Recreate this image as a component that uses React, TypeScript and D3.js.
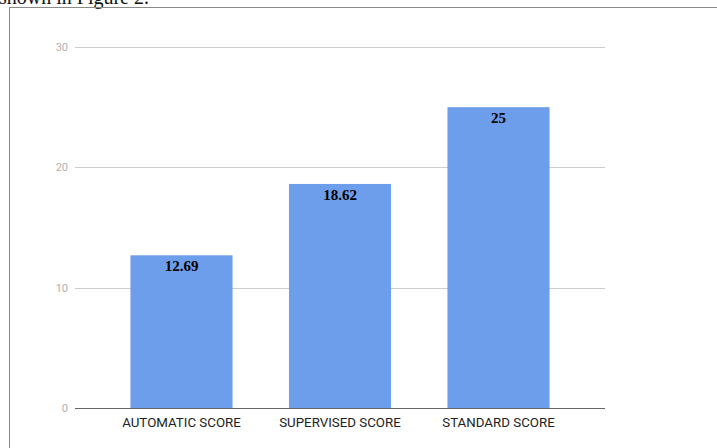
import React from 'react';
import * as d3 from 'd3';

const categories = ['AUTOMATIC SCORE', 'SUPERVISED SCORE', 'STANDARD SCORE'];
const scores = [12.69, 18.62, 25];
const valueLabels = ['12.69', '18.62', '25'];
const yTicks = [0, 10, 20, 30];

const App: React.FC = () => {
    const width = 717;
    const height = 448;

    const x = d3.scaleBand<string>()
        .domain(categories)
        .range([75, 605])
        .paddingInner(0.356)
        .paddingOuter(0.35);

    const y = d3.scaleLinear()
        .domain([0, 30])
        .range([408, 47]);

    return (
        <svg
            width={width}
            height={height}
            style={{ position: 'fixed', left: 0, top: 0, background: '#fff' }}
        >
            {/* cut-off line of body text above the figure */}
            <text x={-1} y={4} fontFamily="'Liberation Serif', serif" fontSize={20} fill="#111">
                shown in Figure 2.
            </text>

            {/* figure frame */}
            <rect x={9.5} y={7.5} width={width} height={height} fill="none" stroke="#8a8a8a" strokeWidth={1} />

            {/* gridlines and y labels */}
            {yTicks.map(t => (
                <g key={t}>
                    {t !== 0 && (
                        <line x1={75} x2={605} y1={Math.round(y(t)) + 0.5} y2={Math.round(y(t)) + 0.5} stroke="#cccccc" strokeWidth={1} />
                    )}
                    <text
                        x={68}
                        y={y(t)}
                        dy="0.35em"
                        textAnchor="end"
                        fontFamily="Roboto, Arial, sans-serif"
                        fontSize={11}
                        fill="#b0b0b0"
                    >
                        {t}
                    </text>
                </g>
            ))}

            {/* bars */}
            {categories.map((c, i) => (
                <rect
                    key={c}
                    x={x(c)}
                    y={y(scores[i])}
                    width={x.bandwidth()}
                    height={y(0) - y(scores[i])}
                    fill="#6d9eeb"
                />
            ))}

            {/* value labels */}
            {categories.map((c, i) => (
                <text
                    key={c}
                    x={(x(c) ?? 0) + x.bandwidth() / 2}
                    y={y(scores[i]) + 16}
                    textAnchor="middle"
                    fontFamily="'Liberation Serif', serif"
                    fontWeight="bold"
                    fontSize={15}
                    fill="#000"
                >
                    {valueLabels[i]}
                </text>
            ))}

            {/* baseline */}
            <line x1={75} x2={605} y1={408.5} y2={408.5} stroke="#666" strokeWidth={1.2} />

            {/* category labels */}
            {categories.map(c => (
                <text
                    key={c}
                    x={(x(c) ?? 0) + x.bandwidth() / 2}
                    y={427}
                    textAnchor="middle"
                    fontFamily="Roboto, Arial, sans-serif"
                    fontSize={13.3}
                    fill="#222"
                >
                    {c}
                </text>
            ))}
        </svg>
    );
};

export default App;
